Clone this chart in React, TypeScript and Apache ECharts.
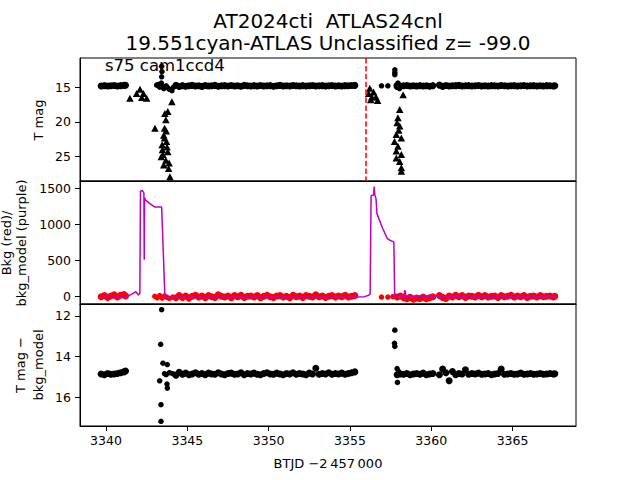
import React, { useEffect, useRef } from "react";
import * as echarts from "echarts";

// ---------- axis ticks ----------
const xTicks = [3340, 3345, 3350, 3355, 3360, 3365];
const magTicks = [15, 20, 25];
const bkgTicks = [0, 500, 1000, 1500];
const diffTicks = [12, 14, 16];

// ---------- observation times (BTJD - 2457000) ----------
const timesA = [3339.7, 3339.9, 3340.1, 3340.3, 3340.5, 3340.7, 3340.9, 3341.1, 3341.2];
const timesB = [
  3344.3, 3344.5, 3344.7, 3344.9, 3345.1, 3345.3, 3345.5, 3345.7, 3345.9, 3346.1,
  3346.3, 3346.5, 3346.7, 3346.9, 3347.1, 3347.3, 3347.5, 3347.7, 3347.9, 3348.1,
  3348.3, 3348.5, 3348.7, 3348.9, 3349.1, 3349.3, 3349.5, 3349.7, 3349.9, 3350.1,
  3350.3, 3350.5, 3350.7, 3350.9, 3351.1, 3351.3, 3351.5, 3351.7, 3351.9, 3352.1,
  3352.3, 3352.5, 3352.7, 3352.9, 3353.1, 3353.3, 3353.5, 3353.7, 3353.9, 3354.1,
  3354.3, 3354.5, 3354.7, 3354.9, 3355.1, 3355.3,
];
const timesC = [
  3357.9, 3358.1, 3358.3, 3358.5, 3358.7, 3358.9, 3359.1, 3359.3, 3359.5, 3359.7,
  3359.9, 3360.1, 3360.5, 3360.7, 3360.9, 3361.1, 3361.3, 3361.5, 3361.7, 3361.9,
  3362.1, 3362.3, 3362.5, 3362.7, 3362.9, 3363.1, 3363.3, 3363.5, 3363.7, 3363.9,
  3364.1, 3364.3, 3364.5, 3364.7, 3364.9, 3365.1, 3365.3, 3365.5, 3365.7, 3365.9,
  3366.1, 3366.3, 3366.5, 3366.7, 3366.9, 3367.1, 3367.3, 3367.5, 3367.6,
];

// ---------- panel 1: T mag ----------
const magA = [14.82, 14.78, 14.84, 14.8, 14.76, 14.82, 14.78, 14.74, 14.72];
const magB = [
  14.72, 14.9, 14.78, 14.86, 14.8, 14.74, 14.84, 14.8, 14.88, 14.76,
  14.82, 14.8, 14.74, 14.86, 14.8, 14.78, 14.84, 14.76, 14.82, 14.8,
  14.86, 14.74, 14.8, 14.84, 14.78, 14.82, 14.76, 14.84, 14.8, 14.78,
  14.86, 14.8, 14.74, 14.82, 14.8, 14.84, 14.76, 14.8, 14.82, 14.78,
  14.84, 14.8, 14.76, 14.82, 14.8, 14.78, 14.84, 14.8, 14.76, 14.82,
  14.8, 14.84, 14.78, 14.8, 14.76, 14.74,
];
const magC = [
  14.9, 14.84, 14.8, 14.76, 14.82, 14.8, 14.84, 14.78, 14.82, 14.8,
  14.86, 14.78, 14.7, 14.88, 14.76, 14.84, 14.8, 14.78, 14.74, 14.82,
  14.8, 14.78, 14.84, 14.8, 14.76, 14.82, 14.8, 14.84, 14.78, 14.8,
  14.82, 14.76, 14.8, 14.84, 14.8, 14.78, 14.82, 14.8, 14.76, 14.84,
  14.8, 14.78, 14.82, 14.8, 14.84, 14.78, 14.8, 14.82, 14.8,
];
const magFlare: [number, number][] = [
  [3343.11, 14.7], [3343.21, 14.6], [3343.3, 15.0], [3343.4, 14.4], [3343.42, 13.5],
  [3343.44, 12.75], [3343.42, 12.0], [3343.5, 14.9], [3343.55, 15.2], [3343.7, 14.8],
  [3343.8, 15.1], [3343.9, 15.3], [3344.05, 15.5], [3344.15, 15.0],
  [3356.94, 14.8], [3357.33, 14.8], [3357.76, 12.5], [3357.76, 12.9], [3357.76, 13.2],
  [3357.95, 14.4], [3358.05, 15.2], [3357.85, 14.7],
];
const magUpperLimits: [number, number][] = [
  [3341.47, 16.6], [3341.88, 15.9], [3342.09, 15.3], [3342.2, 16.5], [3342.3, 15.9],
  [3342.5, 16.6], [3343.01, 20.9], [3344.05, 17.1], [3343.8, 18.5], [3343.68, 19.7],
  [3343.6, 20.9], [3343.55, 21.9], [3343.72, 22.8], [3343.45, 23.3], [3343.47, 24.0],
  [3343.8, 24.3], [3343.4, 25.0], [3343.68, 25.5], [3343.88, 25.9], [3343.55, 26.2],
  [3343.85, 26.7], [3343.93, 27.9], [3343.6, 22.3], [3343.7, 21.3], [3343.5, 24.7],
  [3343.75, 23.6], [3343.62, 18.8],
  [3356.22, 15.15], [3356.15, 15.9], [3356.45, 15.7], [3356.6, 16.4], [3356.7, 16.9],
  [3356.35, 16.4], [3356.28, 16.8], [3358.27, 16.1], [3358.06, 18.2], [3357.95, 19.4],
  [3358.06, 20.6], [3357.85, 21.8], [3358.16, 22.3], [3357.74, 22.8], [3357.95, 23.5],
  [3357.85, 24.2], [3358.16, 24.7], [3357.85, 25.2], [3358.06, 25.7], [3358.16, 26.6],
  [3358.16, 27.1], [3357.9, 20.1], [3358.0, 21.2],
];
const eventTime = 3356.0;

// ---------- panel 2: background ----------
const bkgA = [-5, 10, -15, 5, 20, -10, 15, 25, 5];
const bkgB = [
  -20, 10, -15, 5, -25, 0, 15, -10, 5, -20,
  10, -5, -15, 20, 0, -10, 5, -20, 10, -5,
  15, -15, 0, 5, -10, 10, -20, 0, 15, -5,
  -15, 5, 10, -10, 0, -20, 15, -5, 5, -15,
  10, 0, -10, 20, -5, 5, -15, 0, 10, -10,
  5, -5, 15, -10, 0, 10,
];
const bkgC = [
  -10, 5, -20, -35, -15, -40, -25, -30, -10, -35,
  -20, -5, 10, -15, -30, 5, -10, 15, -5, 10,
  -15, 5, 0, -10, 15, -5, 10, -10, 0, 5,
  -15, 10, -5, 0, 15, -10, 5, -5, 10, -15,
  0, 5, -10, 10, -5, 0, 5, -10, 0,
];
const bkgFlare: [number, number][] = [
  [3343.0, 0], [3343.15, -20], [3343.3, 10], [3343.45, -25], [3343.6, 5],
  [3343.75, -15], [3343.9, -30], [3344.1, -10], [3356.94, -10], [3357.33, -10],
  [3357.64, -5], [3357.8, 0],
];
const modelTimes = [
  3339.7, 3341.3, 3341.5, 3341.66, 3341.84, 3341.99, 3342.08, 3342.12, 3342.22, 3342.3,
  3342.33, 3342.35, 3342.37, 3342.45, 3342.7, 3343.0, 3343.42, 3343.62, 3343.7, 3344.3,
  3355.3, 3355.9, 3356.15, 3356.24, 3356.3, 3356.45, 3356.49, 3356.53, 3356.6, 3356.66,
  3357.0, 3357.3, 3357.45, 3357.7, 3357.75, 3358.3, 3358.38, 3358.45, 3367.6,
];
const modelValues = [
  5, 5, 20, 41, 64, 18, 40, 1460, 1475, 1450,
  1430, 510, 1370, 1334, 1290, 1241, 1241, 0, -5, -8,
  -8, -5, 15, 30, 1400, 1410, 1528, 1410, 1360, 1150,
  950, 803, 780, 757, 0, 0, 87, 0, 0,
];

// ---------- panel 3: T mag - bkg_model ----------
const diffA = [14.86, 14.9, 14.84, 14.88, 14.86, 14.84, 14.8, 14.76, 14.72];
const diffB = [
  14.92, 14.78, 14.88, 14.82, 14.9, 14.86, 14.8, 14.88, 14.84, 14.9,
  14.82, 14.86, 14.88, 14.8, 14.86, 14.9, 14.84, 14.82, 14.88, 14.86,
  14.8, 14.9, 14.84, 14.86, 14.82, 14.88, 14.9, 14.84, 14.8, 14.86,
  14.88, 14.82, 14.86, 14.9, 14.84, 14.86, 14.8, 14.88, 14.84, 14.86,
  14.9, 14.82, 14.86, 14.58, 14.88, 14.84, 14.86, 14.8, 14.88, 14.84,
  14.86, 14.82, 14.88, 14.84, 14.8, 14.76,
];
const diffC = [
  14.9, 14.86, 14.88, 14.84, 14.9, 14.86, 14.84, 14.88, 14.82, 14.9,
  14.86, 14.84, 14.9, 14.62, 14.8, 15.2, 14.74, 14.9, 14.84, 14.86,
  14.66, 14.88, 14.84, 14.86, 14.82, 14.88, 14.86, 14.84, 14.9, 14.86,
  14.84, 14.62, 14.88, 14.86, 14.84, 14.88, 14.86, 14.82, 14.88, 14.86,
  14.84, 14.88, 14.86, 14.84, 14.88, 14.86, 14.84, 14.86, 14.85,
];
const diffFlare: [number, number][] = [
  [3343.42, 11.69], [3343.36, 13.4], [3343.5, 14.33], [3343.77, 14.4], [3343.3, 15.2],
  [3343.75, 15.36], [3343.77, 15.56], [3343.38, 16.38], [3343.38, 17.2], [3343.6, 14.85],
  [3343.7, 14.9], [3343.9, 14.8], [3344.1, 14.85],
  [3357.76, 12.7], [3357.74, 13.35], [3357.76, 13.5], [3357.9, 14.6], [3357.92, 15.28],
  [3357.95, 14.9], [3358.0, 14.75],
];

// ---------- texts ----------
const titleLine1 = "AT2024cti  ATLAS24cnl";
const titleLine2 = "19.551cyan-ATLAS Unclassified z= -99.0";
const cornerLabel = "s75 cam1ccd4";
const xLabel = "BTJD \u22122\u2009457\u2009000";

function zip(t: number[], v: number[]): number[][] {
  const n = Math.min(t.length, v.length);
  const out: number[][] = [];
  for (let i = 0; i < n; i++) out.push([t[i], v[i]]);
  return out;
}

const FONT = "DejaVu Sans";
const plain = (v: number) => String(v);

export default function App() {
  const ref = useRef<HTMLDivElement>(null);
  useEffect(() => {
    if (!ref.current) return;
    const chart = echarts.init(ref.current, undefined, { renderer: "svg" });

    const gridBoxes = [
      { left: 80, top: 58, width: 496, height: 123 },
      { left: 80, top: 181, width: 496, height: 123 },
      { left: 80, top: 304, width: 496, height: 122 },
    ];
    const grid = gridBoxes.map((g) => ({
      ...g,
      show: true,
      borderColor: "#000",
      borderWidth: 1,
      backgroundColor: "transparent",
      containLabel: false,
    }));

    const xAxis = [0, 1, 2].map((i) => ({
      type: "value",
      gridIndex: i,
      min: 3338.4,
      max: 3368.9,
      splitLine: { show: false },
      axisLine: { show: true, onZero: false, lineStyle: { color: "#000", width: 1 } },
      axisTick: {
        show: i === 2,
        inside: false,
        length: 5,
        customValues: xTicks,
        lineStyle: { color: "#000", width: 1 },
      },
      axisLabel: {
        show: i === 2,
        customValues: xTicks,
        formatter: plain,
        color: "#000",
        fontFamily: FONT,
        fontSize: 12.5,
        margin: 8,
      },
    }));

    const yCommon = (i: number, min: number, max: number, ticks: number[], inverse: boolean) => ({
      type: "value",
      gridIndex: i,
      min,
      max,
      inverse,
      splitLine: { show: false },
      axisLine: { show: true, onZero: false, lineStyle: { color: "#000", width: 1 } },
      axisTick: { show: true, inside: false, length: 5, customValues: ticks, lineStyle: { color: "#000", width: 1 } },
      axisLabel: { customValues: ticks, formatter: plain, color: "#000", fontFamily: FONT, fontSize: 12.5, margin: 9 },
    });

    const yAxis = [
      yCommon(0, 10.8, 28.5, magTicks, true),
      yCommon(1, -107, 1604, bkgTicks, false),
      yCommon(2, 11.41, 17.43, diffTicks, true),
    ];

    const magStrip = [...zip(timesA, magA), ...zip(timesB, magB), ...zip(timesC, magC)];
    const bkgStrip = [...zip(timesA, bkgA), ...zip(timesB, bkgB), ...zip(timesC, bkgC)];
    const diffStrip = [...zip(timesA, diffA), ...zip(timesB, diffB), ...zip(timesC, diffC)];

    const dots = (name: string, grid: number, data: number[][], color: string, size: number, extra: any = {}) => ({
      type: "scatter",
      name,
      xAxisIndex: grid,
      yAxisIndex: grid,
      symbol: "circle",
      symbolSize: size,
      itemStyle: { color, opacity: 1 },
      data,
      ...extra,
    });

    const series: any[] = [
      dots("T mag", 0, magStrip, "#000", 7, {
        markLine: {
          silent: true,
          symbol: "none",
          label: { show: false },
          lineStyle: { color: "#ff0000", type: [5.5, 2.4], width: 1.5, opacity: 1 },
          data: [{ xAxis: eventTime }],
        },
      }),
      dots("T mag flare", 0, magFlare, "#000", 5.5),
      {
        type: "scatter",
        name: "upper limits",
        xAxisIndex: 0,
        yAxisIndex: 0,
        symbol: "triangle",
        symbolSize: [7.5, 7],
        itemStyle: { color: "#000", opacity: 1 },
        data: magUpperLimits,
      },
      dots("Bkg", 1, bkgStrip, "#ff0000", 7),
      dots("Bkg flare", 1, bkgFlare, "#ff0000", 5.5),
      {
        type: "line",
        name: "bkg_model",
        xAxisIndex: 1,
        yAxisIndex: 1,
        showSymbol: false,
        symbol: "none",
        lineStyle: { color: "#bf00bf", width: 1.5 },
        data: zip(modelTimes, modelValues),
        z: 3,
      },
      dots("T mag - bkg_model", 2, diffStrip, "#000", 7),
      dots("T mag - bkg_model flare", 2, diffFlare, "#000", 5.5),
    ];

    const txt = (text: string, x: number, y: number, size: number, opts: any = {}) => ({
      type: "text",
      x,
      y,
      rotation: opts.rotation || 0,
      style: {
        text,
        fill: "#000",
        fontFamily: FONT,
        fontSize: size,
        textAlign: opts.align || "center",
        textVerticalAlign: opts.valign || "middle",
      },
      z: 100,
    });

    const rot = Math.PI / 2;
    const graphic = [
      txt(titleLine1, 328, 21, 20),
      txt(titleLine2, 328, 43, 20),
      txt(cornerLabel, 105, 65, 16.5, { align: "left" }),
      txt(xLabel, 328, 463, 13),
      txt("T mag", 38, 120, 13, { rotation: rot }),
      txt("Bkg (red)/", 6, 243, 13, { rotation: rot }),
      txt("bkg_model (purple)", 21, 243, 13, { rotation: rot }),
      txt("T mag \u2212", 20, 365, 13, { rotation: rot }),
      txt("bkg_model", 38, 365, 13, { rotation: rot }),
    ];

    chart.setOption({
      animation: false,
      backgroundColor: "#fff",
      textStyle: { fontFamily: FONT },
      grid,
      xAxis,
      yAxis,
      series,
      graphic,
    } as any);

    return () => chart.dispose();
  }, []);

  return (
    <div
      ref={ref}
      style={{ position: "fixed", left: 0, top: 0, width: 640, height: 480, background: "#fff" }}
    />
  );
}
